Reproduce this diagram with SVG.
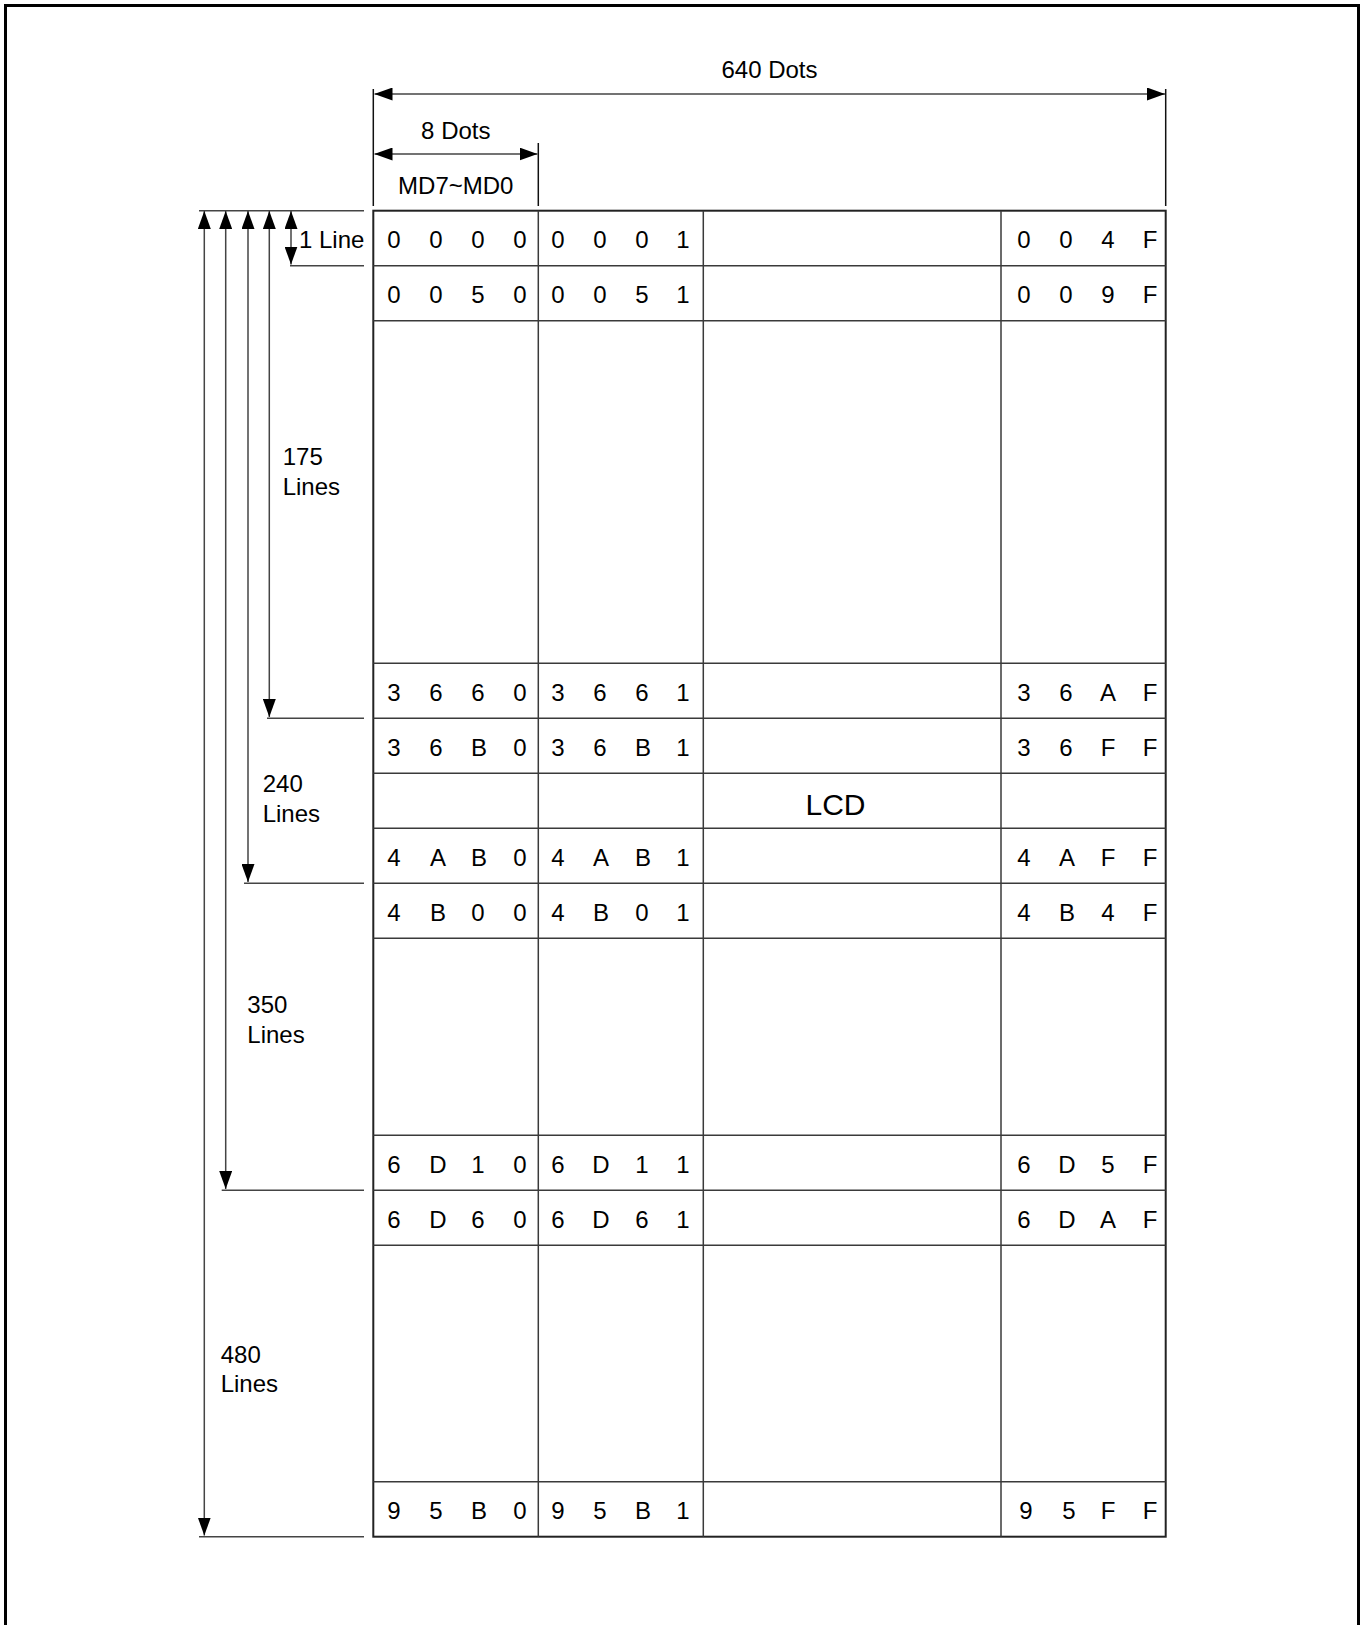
<svg xmlns="http://www.w3.org/2000/svg" width="1361" height="1625" viewBox="0 0 1361 1625">
<style>
  text { font-family: "Liberation Sans", Arial, sans-serif; fill: #000; }
  .t { font-size: 24px; }
  .c { font-size: 24px; text-anchor: middle; }
  .lcd { font-size: 30px; text-anchor: middle; }
  .grid { stroke: #3a3a3a; stroke-width: 1.5; fill: none; }
  .outer { stroke: #222; stroke-width: 2; fill: none; }
  .dim { stroke: #444; stroke-width: 1.5; fill: none; }
  .ext { stroke: #111; stroke-width: 1.5; fill: none; }
  .arr2 { stroke: #444; stroke-width: 1.5; fill: none; marker-start: url(#ah); marker-end: url(#ah); }
</style>
<defs>
  <marker id="ah" markerUnits="userSpaceOnUse" markerWidth="18" markerHeight="13" refX="18" refY="6.5" orient="auto-start-reverse">
    <path d="M0,0 L18,6.5 L0,13 Z" fill="#000"/>
  </marker>
</defs>
<rect width="1361" height="1625" fill="#fff"/>
<path d="M5.5,1625 V5.5 H1358.5 V1625" fill="none" stroke="#000" stroke-width="3"/>

<g id="dimensions">
  <line class="ext" x1="373.3" y1="89" x2="373.3" y2="206"/>
  <line class="ext" x1="538.3" y1="143" x2="538.3" y2="206"/>
  <line class="ext" x1="1165.7" y1="89" x2="1165.7" y2="206"/>
  <line class="arr2" x1="374.5" y1="94" x2="1165" y2="94"/>
  <line class="arr2" x1="374.5" y1="154" x2="537.5" y2="154"/>
  <line class="dim" x1="199" y1="210.7" x2="364" y2="210.7"/>
  <line class="dim" x1="290" y1="265.7" x2="364" y2="265.7"/>
  <line class="dim" x1="267" y1="718.3" x2="364" y2="718.3"/>
  <line class="dim" x1="244" y1="883.3" x2="364" y2="883.3"/>
  <line class="dim" x1="221.7" y1="1190.3" x2="364" y2="1190.3"/>
  <line class="dim" x1="199" y1="1536.7" x2="364" y2="1536.7"/>
  <line class="arr2" x1="291" y1="211" x2="291" y2="264.5"/>
  <line class="arr2" x1="269.3" y1="211" x2="269.3" y2="717"/>
  <line class="arr2" x1="248" y1="211" x2="248" y2="882"/>
  <line class="arr2" x1="225.7" y1="211" x2="225.7" y2="1189"/>
  <line class="arr2" x1="204.3" y1="211" x2="204.3" y2="1535.5"/>
</g>

<g id="labels">
  <text class="t" x="769.5" y="78.3" text-anchor="middle">640 Dots</text>
  <text class="t" x="455.8" y="139" text-anchor="middle">8 Dots</text>
  <text class="t" x="455.8" y="194" text-anchor="middle">MD7~MD0</text>
  <text class="t" x="299" y="248.3">1 Line</text>
  <text class="t" x="282.7" y="465">175</text>
  <text class="t" x="282.7" y="495">Lines</text>
  <text class="t" x="262.7" y="792.3">240</text>
  <text class="t" x="262.7" y="821.7">Lines</text>
  <text class="t" x="247.3" y="1013.3">350</text>
  <text class="t" x="247.3" y="1043.3">Lines</text>
  <text class="t" x="220.7" y="1362.7">480</text>
  <text class="t" x="220.7" y="1391.7">Lines</text>
</g>

<g id="lcd-grid">
  <rect class="outer" x="373.3" y="210.7" width="792.4" height="1326"/>
  <line class="grid" x1="538.3" y1="210.7" x2="538.3" y2="1536.7"/>
  <line class="grid" x1="703.3" y1="210.7" x2="703.3" y2="1536.7"/>
  <line class="grid" x1="1001" y1="210.7" x2="1001" y2="1536.7"/>
  <g>
    <line class="grid" x1="373.3" y1="265.7" x2="1165.7" y2="265.7"/>
    <line class="grid" x1="373.3" y1="320.7" x2="1165.7" y2="320.7"/>
    <line class="grid" x1="373.3" y1="663.3" x2="1165.7" y2="663.3"/>
    <line class="grid" x1="373.3" y1="718.3" x2="1165.7" y2="718.3"/>
    <line class="grid" x1="373.3" y1="773.3" x2="1165.7" y2="773.3"/>
    <line class="grid" x1="373.3" y1="828.3" x2="1165.7" y2="828.3"/>
    <line class="grid" x1="373.3" y1="883.3" x2="1165.7" y2="883.3"/>
    <line class="grid" x1="373.3" y1="938.3" x2="1165.7" y2="938.3"/>
    <line class="grid" x1="373.3" y1="1135.3" x2="1165.7" y2="1135.3"/>
    <line class="grid" x1="373.3" y1="1190.3" x2="1165.7" y2="1190.3"/>
    <line class="grid" x1="373.3" y1="1245.3" x2="1165.7" y2="1245.3"/>
    <line class="grid" x1="373.3" y1="1481.7" x2="1165.7" y2="1481.7"/>
  </g>
  <text class="lcd" x="835.5" y="815">LCD</text>
</g>

<g id="row-0000">
  <text class="c" y="248.3"><tspan x="394">0</tspan><tspan x="436">0</tspan><tspan x="478">0</tspan><tspan x="520">0</tspan><tspan x="558">0</tspan><tspan x="600">0</tspan><tspan x="642">0</tspan><tspan x="683">1</tspan><tspan x="1024">0</tspan><tspan x="1066">0</tspan><tspan x="1108">4</tspan><tspan x="1150">F</tspan></text>
</g>
<g id="row-0050">
  <text class="c" y="303.3"><tspan x="394">0</tspan><tspan x="436">0</tspan><tspan x="478">5</tspan><tspan x="520">0</tspan><tspan x="558">0</tspan><tspan x="600">0</tspan><tspan x="642">5</tspan><tspan x="683">1</tspan><tspan x="1024">0</tspan><tspan x="1066">0</tspan><tspan x="1108">9</tspan><tspan x="1150">F</tspan></text>
</g>
<g id="row-3660">
  <text class="c" y="700.9"><tspan x="394">3</tspan><tspan x="436">6</tspan><tspan x="478">6</tspan><tspan x="520">0</tspan><tspan x="558">3</tspan><tspan x="600">6</tspan><tspan x="642">6</tspan><tspan x="683">1</tspan><tspan x="1024">3</tspan><tspan x="1066">6</tspan><tspan x="1108">A</tspan><tspan x="1150">F</tspan></text>
</g>
<g id="row-36B0">
  <text class="c" y="755.9"><tspan x="394">3</tspan><tspan x="436">6</tspan><tspan x="479">B</tspan><tspan x="520">0</tspan><tspan x="558">3</tspan><tspan x="600">6</tspan><tspan x="643">B</tspan><tspan x="683">1</tspan><tspan x="1024">3</tspan><tspan x="1066">6</tspan><tspan x="1108">F</tspan><tspan x="1150">F</tspan></text>
</g>
<g id="row-4AB0">
  <text class="c" y="865.9"><tspan x="394">4</tspan><tspan x="438">A</tspan><tspan x="479">B</tspan><tspan x="520">0</tspan><tspan x="558">4</tspan><tspan x="601">A</tspan><tspan x="643">B</tspan><tspan x="683">1</tspan><tspan x="1024">4</tspan><tspan x="1067">A</tspan><tspan x="1108">F</tspan><tspan x="1150">F</tspan></text>
</g>
<g id="row-4B00">
  <text class="c" y="920.9"><tspan x="394">4</tspan><tspan x="438">B</tspan><tspan x="478">0</tspan><tspan x="520">0</tspan><tspan x="558">4</tspan><tspan x="601">B</tspan><tspan x="642">0</tspan><tspan x="683">1</tspan><tspan x="1024">4</tspan><tspan x="1067">B</tspan><tspan x="1108">4</tspan><tspan x="1150">F</tspan></text>
</g>
<g id="row-6D10">
  <text class="c" y="1172.9"><tspan x="394">6</tspan><tspan x="438">D</tspan><tspan x="478">1</tspan><tspan x="520">0</tspan><tspan x="558">6</tspan><tspan x="601">D</tspan><tspan x="642">1</tspan><tspan x="683">1</tspan><tspan x="1024">6</tspan><tspan x="1067">D</tspan><tspan x="1108">5</tspan><tspan x="1150">F</tspan></text>
</g>
<g id="row-6D60">
  <text class="c" y="1227.9"><tspan x="394">6</tspan><tspan x="438">D</tspan><tspan x="478">6</tspan><tspan x="520">0</tspan><tspan x="558">6</tspan><tspan x="601">D</tspan><tspan x="642">6</tspan><tspan x="683">1</tspan><tspan x="1024">6</tspan><tspan x="1067">D</tspan><tspan x="1108">A</tspan><tspan x="1150">F</tspan></text>
</g>
<g id="row-95B0">
  <text class="c" y="1519.3"><tspan x="394">9</tspan><tspan x="436">5</tspan><tspan x="479">B</tspan><tspan x="520">0</tspan><tspan x="558">9</tspan><tspan x="600">5</tspan><tspan x="643">B</tspan><tspan x="683">1</tspan><tspan x="1026">9</tspan><tspan x="1069">5</tspan><tspan x="1108">F</tspan><tspan x="1150">F</tspan></text>
</g>
</svg>
